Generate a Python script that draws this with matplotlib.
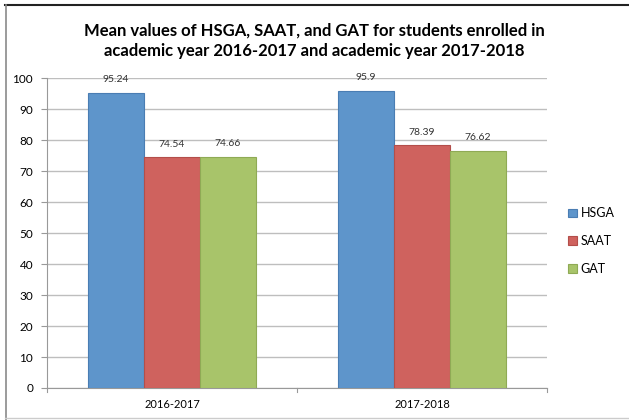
import matplotlib.pyplot as plt
import numpy as np
from matplotlib.lines import Line2D

years = ["2016-2017", "2017-2018"]
series = ["HSGA", "SAAT", "GAT"]
hsga = [95.24, 95.9]
saat = [74.54, 78.39]
gat = [74.66, 76.62]
value_labels = [["95.24", "95.9"], ["74.54", "78.39"], ["74.66", "76.62"]]

colors = ["#5E95CB", "#CF625E", "#A8C46A"]
edges = ["#4A7DB3", "#B34E4A", "#8FAA55"]

plt.rcParams["font.family"] = ["Lato", "DejaVu Sans"]

fig = plt.figure(figsize=(6.29, 4.2), dpi=100)
# screenshot frame: dark top edge, grey left edge, light bottom edge
fig.lines.append(Line2D([0.008, 1.0], [0.989, 0.989], transform=fig.transFigure, color="#222222", linewidth=1.5))
fig.lines.append(Line2D([0.009, 0.009], [0.0, 0.989], transform=fig.transFigure, color="#8A8A8A", linewidth=1.2))
fig.lines.append(Line2D([0.008, 1.0], [0.004, 0.004], transform=fig.transFigure, color="#CCCCCC", linewidth=1.0))

ax = fig.add_axes([0.0747, 0.0762, 0.795, 0.738])

x = np.arange(len(years))
width = 0.224
for i, (name, vals) in enumerate(zip(series, [hsga, saat, gat])):
    bars = ax.bar(x + (i - 1) * width, vals, width, color=colors[i], edgecolor=edges[i],
                  linewidth=0.8, label=name, zorder=3)
    for b, lab in zip(bars, value_labels[i]):
        ax.annotate(lab, (b.get_x() + b.get_width() / 2, b.get_height()), xytext=(0, 6),
                    textcoords="offset points", ha="center", va="bottom", fontsize=7.5, color="#333333")

ax.set_xlim(-0.5, 1.5)
ax.set_ylim(0, 100)
ax.set_yticks(range(0, 101, 10))
ax.set_xticks(x)
ax.set_xticklabels(years, fontsize=8)
ax.tick_params(axis="y", labelsize=8.5, length=4, color="#999999", pad=6)
ax.tick_params(axis="x", length=0, pad=8)
for pos in [-0.5, 0.5, 1.5]:
    ax.plot([pos, pos], [0, -1.3], color="#999999", linewidth=0.8, clip_on=False)
ax.grid(axis="y", color="#BEBEBE", linewidth=1.0, zorder=0)
for s in ["top", "right"]:
    ax.spines[s].set_visible(False)
ax.spines["left"].set_color("#999999")
ax.spines["bottom"].set_color("#999999")

ax.legend(loc="center left", bbox_to_anchor=(1.02, 0.474), frameon=False, fontsize=9,
          handlelength=0.7, handleheight=0.7, handletextpad=0.3, labelspacing=1.25)

fig.text(0.5, 0.903, "Mean values of HSGA, SAAT, and GAT for students enrolled in\n"
         "academic year 2016-2017 and academic year 2017-2018",
         ha="center", va="center", fontsize=12, fontweight="bold", linespacing=1.3)

fig.savefig("out.png", dpi=100)
